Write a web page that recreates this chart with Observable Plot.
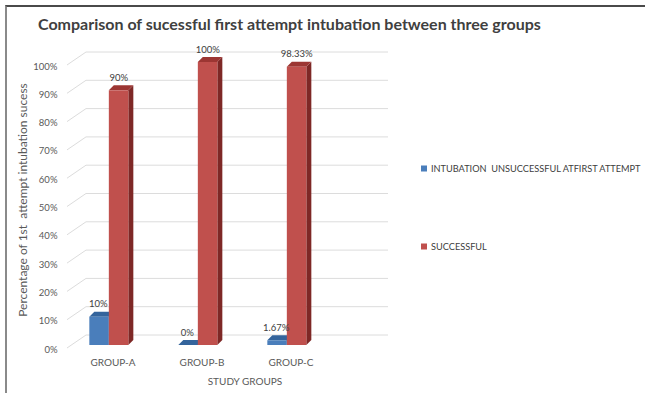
<!DOCTYPE html>
<html>
<head>
<meta charset="utf-8">
<script src="https://cdn.jsdelivr.net/npm/d3@7"></script>
<script src="https://cdn.jsdelivr.net/npm/@observablehq/plot@0.6"></script>
<style>
  html, body { margin: 0; padding: 0; background: #fff; }
  #wrap { position: relative; width: 645px; height: 393px; overflow: hidden; font-family: Lato, "Open Sans", sans-serif; }
  #frame { position: absolute; left: 5px; top: 5px; width: 700px; height: 450px; border-left: 2px solid #8a8a8a; border-top: 2px solid #4a4a4a; box-sizing: border-box; }
  #title { position: absolute; left: 38px; top: 14px; font-size: 16px; font-weight: bold; color: #404040; white-space: nowrap; }
  #ytitle { position: absolute; left: 22px; top: 200px; transform: translate(-50%, -50%) rotate(-90deg); font-size: 12px; color: #595959; white-space: pre; }
  #xtitle { position: absolute; left: 245px; top: 381px; transform: translate(-50%, -50%); font-size: 10px; color: #595959; white-space: nowrap; }
  .leg { position: absolute; left: 421px; font-size: 9.2px; color: #404040; white-space: pre; transform: translateY(-50%); display: flex; align-items: center; }
  .sw { width: 6px; height: 6px; margin-right: 4px; display: inline-block; }
  #chart { position: absolute; left: 0; top: 0; }
</style>
</head>
<body>
<div id="wrap">
  <div id="frame"></div>
  <div id="chart"></div>
  <div id="title"></div>
  <div id="ytitle"></div>
  <div id="xtitle"></div>
  <div id="legend"></div>
</div>
<script>
const titleText = "Comparison of sucessful first attempt intubation between three groups";
const yTitle = "Percentage of 1st  attempt intubation sucess";
const xTitle = "STUDY GROUPS";
const groups = ["GROUP-A", "GROUP-B", "GROUP-C"];
const seriesNames = ["INTUBATION  UNSUCCESSFUL ATFIRST ATTEMPT", "SUCCESSFUL"];
const unsuccessful = [10, 0, 1.67];
const successful = [90, 100, 98.33];
const unsuccessfulLabels = ["10%", "0%", "1.67%"];
const successfulLabels = ["90%", "100%", "98.33%"];
const yTicks = [0, 10, 20, 30, 40, 50, 60, 70, 80, 90, 100];

const colors = {
  [seriesNames[0]]: {front: "#4a7ebb", top: "#34649c", side: "#2a5284"},
  [seriesNames[1]]: {front: "#c0504d", top: "#9c3633", side: "#7e2826"}
};

const rows = [];
groups.forEach((g, i) => {
  rows.push({group: g, series: seriesNames[0], value: unsuccessful[i], label: unsuccessfulLabels[i]});
  rows.push({group: g, series: seriesNames[1], value: successful[i], label: successfulLabels[i]});
});

const xRange = [63, 332];
const bw = (xRange[1] - xRange[0]) / groups.length;
const barW = 19.5;
const depthX = 5, depthY = 5;

function bar3d(series, leftSide) {
  const c = colors[series];
  const data = rows.filter(d => d.series === series);
  const inL = leftSide ? bw / 2 - barW : bw / 2;
  return Plot.barY(data, {
    x: "group", y: "value", fill: c.front,
    render(index, scales, values, dims) {
      const g = d3.create("svg:g");
      for (const i of index) {
        const d = data[i];
        const x0 = scales.x(d.group) + inL;
        const x1 = x0 + barW;
        const yb = scales.y(0);
        const yt = scales.y(d.value);
        g.append("path")
          .attr("d", `M${x1},${yb}L${x1 + depthX},${yb - depthY}L${x1 + depthX},${yt - depthY}L${x1},${yt}Z`)
          .attr("fill", c.side);
        g.append("path")
          .attr("d", `M${x0},${yt}L${x0 + depthX},${yt - depthY}L${x1 + depthX},${yt - depthY}L${x1},${yt}Z`)
          .attr("fill", c.top);
        g.append("rect")
          .attr("x", x0).attr("y", yt).attr("width", barW).attr("height", Math.max(0, yb - yt))
          .attr("fill", c.front);
      }
      return g.node();
    }
  });
}

const grid = Plot.ruleY(yTicks, {
  y: d => d,
  render(index, scales, values, dims) {
    const g = d3.create("svg:g");
    const xs = dims.marginLeft;
    const xe = dims.width - dims.marginRight;
    for (const i of index) {
      const y = scales.y(yTicks[i]);
      g.append("path")
        .attr("d", `M${xs},${y + 3}L${xs + 19},${y - 10}L${xe},${y - 10}`)
        .attr("fill", "none").attr("stroke", "#dcdcdc").attr("stroke-width", 1);
    }
    return g.node();
  }
});

const chart = Plot.plot({
  width: 645,
  height: 393,
  marginTop: 62,
  marginBottom: 48,
  marginLeft: 67,
  marginRight: 257,
  style: {fontFamily: "Lato, 'Open Sans', sans-serif", background: "transparent"},
  x: {type: "band", domain: groups, range: xRange, padding: 0, axis: null},
  y: {domain: [0, 100], axis: null},
  marks: [
    grid,
    Plot.axisY(yTicks, {tickSize: 0, tickPadding: 10, tickFormat: d => d + "%", fontSize: 9.5, dy: 4, color: "#595959", label: null}),
    Plot.axisX(groups, {tickSize: 0, tickPadding: 13, dx: 4, fontSize: 10, color: "#595959", label: null}),
    bar3d(seriesNames[0], true),
    bar3d(seriesNames[1], false),
    Plot.text(rows.filter(d => d.series === seriesNames[0]), {x: "group", y: "value", text: "label", dx: -barW / 2 - 1, dy: -13, fontSize: 9.5, fill: "#404040"}),
    Plot.text(rows.filter(d => d.series === seriesNames[1]), {x: "group", y: "value", text: "label", dx: barW / 2, dy: -13, fontSize: 9.5, fill: "#404040"})
  ]
});
document.getElementById("chart").appendChild(chart);

document.getElementById("title").textContent = titleText;
document.getElementById("ytitle").textContent = yTitle;
document.getElementById("xtitle").textContent = xTitle;
const legendYs = [168, 246];
const leg = document.getElementById("legend");
seriesNames.forEach((s, i) => {
  const div = document.createElement("div");
  div.className = "leg";
  div.style.top = legendYs[i] + "px";
  const sw = document.createElement("span");
  sw.className = "sw";
  sw.style.background = colors[s].front;
  div.appendChild(sw);
  div.appendChild(document.createTextNode(s));
  leg.appendChild(div);
});
</script>
</body>
</html>
